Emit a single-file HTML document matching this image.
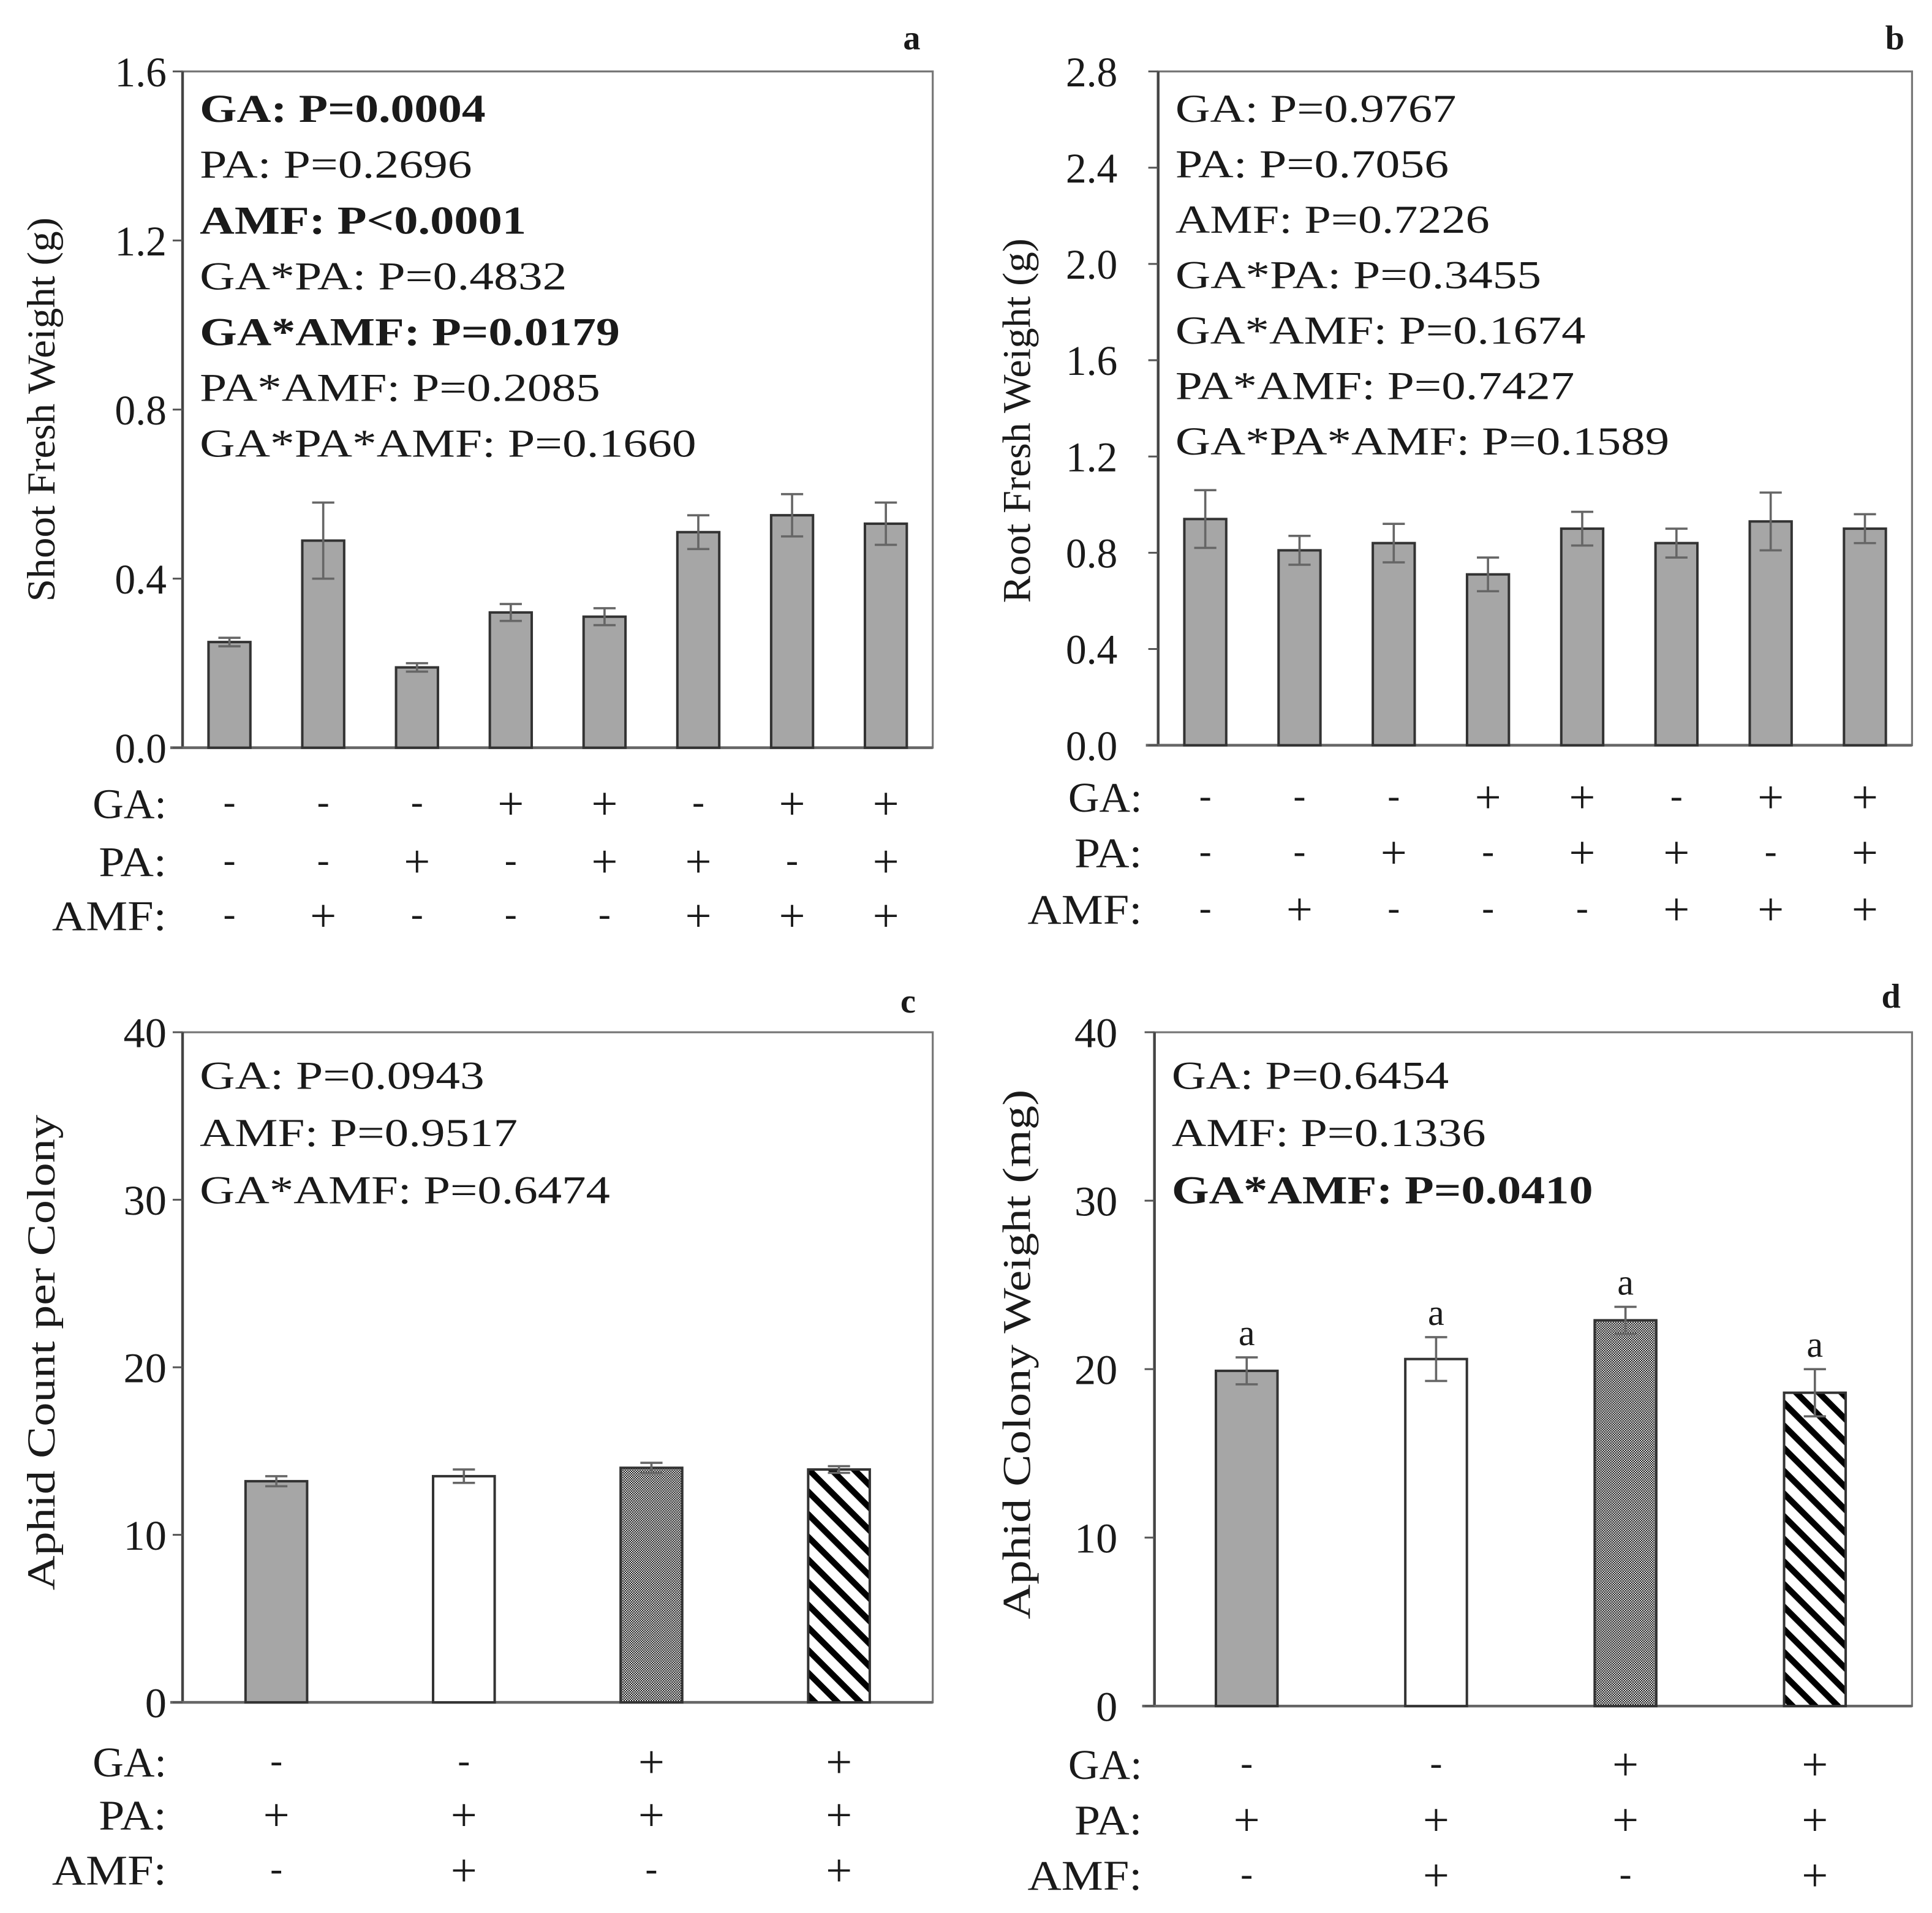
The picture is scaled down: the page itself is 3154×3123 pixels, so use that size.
<!DOCTYPE html>
<html><head><meta charset="utf-8"><style>
html,body{margin:0;padding:0;background:#fff}
svg{display:block}
text{font-family:"Liberation Serif",serif;fill:#1a1a1a}
</style></head><body>
<svg id="fig" width="3154" height="3123" viewBox="0 0 1568 1553" xmlns="http://www.w3.org/2000/svg">
<defs>
<pattern id="dots" patternUnits="userSpaceOnUse" width="2" height="2"><rect width="2" height="2" fill="#fff"/><rect width="1" height="1" fill="#000"/><rect x="1" y="1" width="1" height="1" fill="#000"/></pattern>
<pattern id="hatch" patternUnits="userSpaceOnUse" width="13" height="13" patternTransform="rotate(45)"><rect width="13" height="13" fill="#fff"/><rect width="13" height="5" fill="#000"/></pattern>
</defs>
</svg>
<script>
// Panel a data
const aValues=[0.25,0.49,0.19,0.32,0.31,0.51,0.55,0.53];
const aErrors=[0.01,0.09,0.01,0.02,0.02,0.04,0.05,0.05];
const aTicks=["0.0","0.4","0.8","1.2","1.6"];
// Panel b data
const bValues=[0.94,0.81,0.84,0.71,0.90,0.84,0.93,0.90];
const bErrors=[0.12,0.06,0.08,0.07,0.07,0.06,0.12,0.06];
const bTicks=["0.0","0.4","0.8","1.2","1.6","2.0","2.4","2.8"];
// Panel c data
const cValues=[13.2,13.5,14.0,13.9];
const cErrors=[0.3,0.4,0.3,0.2];
const cTicks=["0","10","20","30","40"];
// Panel d data
const dValues=[19.9,20.6,22.9,18.6];
const dErrors=[0.8,1.3,0.8,1.4];
const dTicks=["0","10","20","30","40"];
const dLetters=["a","a","a","a"];
// treatment rows
const abGA=["-","-","-","+","+","-","+","+"];
const abPA=["-","-","+","-","+","+","-","+"];
const abAMF=["-","+","-","-","-","+","+","+"];
const cdGA=["-","-","+","+"];
const cdPA=["+","+","+","+"];
const cdAMF=["-","+","-","+"];
// stats text
const aStats=[["GA: P=0.0004",1],["PA: P=0.2696",0],["AMF: P<0.0001",1],["GA*PA: P=0.4832",0],["GA*AMF: P=0.0179",1],["PA*AMF: P=0.2085",0],["GA*PA*AMF: P=0.1660",0]];
const bStats=[["GA: P=0.9767",0],["PA: P=0.7056",0],["AMF: P=0.7226",0],["GA*PA: P=0.3455",0],["GA*AMF: P=0.1674",0],["PA*AMF: P=0.7427",0],["GA*PA*AMF: P=0.1589",0]];
const cStats=[["GA: P=0.0943",0],["AMF: P=0.9517",0],["GA*AMF: P=0.6474",0]];
const dStats=[["GA: P=0.6454",0],["AMF: P=0.1336",0],["GA*AMF: P=0.0410",1]];

const NS="http://www.w3.org/2000/svg";
const svg=document.getElementById('fig');
function mk(tag,attrs,parent){const e=document.createElementNS(NS,tag);for(const k in attrs)e.setAttribute(k,attrs[k]);(parent||svg).appendChild(e);return e;}
function txt(s,attrs,parent){const e=mk('text',attrs,parent);e.textContent=s;return e;}
const rowW={'GA:':60,'PA:':55,'AMF:':93};
function tickW(t){let w=0;for(const ch of t)w+=(ch==='.'?7:17.5);return w;}

function panel(cfg){
  const g=mk('g',{});
  
  
  const L=cfg.L,R=cfg.R,T=cfg.T,B=cfg.B,max=cfg.max;
  const y=v=>B-(v/max)*(B-T);
  const n=cfg.values.length, step=(R-L)/n;
  const x=i=>L+step*(i+0.5)+cfg.xoff;
  const fr=mk('rect',{x:L,y:T,width:R-L,height:B-T,fill:'none',stroke:'#777','stroke-width':1.6},g);
  
  
  mk('line',{x1:L,y1:T,x2:L,y2:B,stroke:'#444','stroke-width':2.2},g);
  mk('line',{x1:L-10,y1:B,x2:R,y2:B,stroke:'#666','stroke-width':2.2},g);
  cfg.ticks.forEach((t,i)=>{
    const v=parseFloat(t);const yy=y(v);
    mk('line',{x1:L-8,y1:yy,x2:L,y2:yy,stroke:'#555','stroke-width':1.5},g);
    const tl=txt(t,{x:cfg.tickX,y:yy+12,'font-size':34,'text-anchor':'end',textLength:tickW(t),lengthAdjust:'spacingAndGlyphs'},g);
    
    
  });
  cfg.values.forEach((v,i)=>{
    const cx=x(i);const w=cfg.bw;
    const b=mk('rect',{x:cx-w/2,y:y(v),width:w,height:B-y(v),fill:cfg.fills[i],stroke:'#333','stroke-width':2},g);
    
    
    const e=cfg.errors[i];
    const eg=mk('g',{stroke:'#666','stroke-width':1.8},g);
    
    
    mk('line',{x1:cx,y1:y(v+e),x2:cx,y2:y(v-e)},eg);
    mk('line',{x1:cx-9,y1:y(v+e),x2:cx+9,y2:y(v+e)},eg);
    mk('line',{x1:cx-9,y1:y(v-e),x2:cx+9,y2:y(v-e)},eg);
    if(cfg.letters){
      const lt=txt(cfg.letters[i],{x:cx,y:y(v+e)-10,'font-size':30,'text-anchor':'middle'},g);
      
      
    }
  });
  cfg.stats.forEach((s,i)=>{
    const t=txt(s[0],{x:L+14,y:cfg.statY+i*cfg.statStep,'font-size':32,'font-weight':s[1]?'bold':'normal',textLength:cfg.statW[i],lengthAdjust:'spacingAndGlyphs'},g);
    
    
  });
  const cy=(T+B)/2+cfg.titleDy;
  const yt=txt(cfg.ytitle,{x:cfg.titleX,y:cy,'font-size':32,'text-anchor':'middle',transform:`rotate(-90 ${cfg.titleX} ${cy})`,textLength:cfg.titleLen,lengthAdjust:'spacingAndGlyphs'},g);
  
  
  const pl=txt(cfg.letter,{x:cfg.letterX,y:cfg.letterY,'font-size':28,'font-weight':'bold','text-anchor':'middle'},g);
  
  
  [['GA:',cfg.ga],['PA:',cfg.pa],['AMF:',cfg.amf]].forEach((r,k)=>{
    const yy=cfg.rowY[k];
    const rl=txt(r[0],{x:cfg.rowLabelX,y:yy+12,'font-size':34,'text-anchor':'end',textLength:rowW[r[0]],lengthAdjust:'spacingAndGlyphs'},g);
    
    
    r[1].forEach((s,i)=>{
      const st=txt(s,{x:x(i),y:yy+(s==='+'?13:9),'font-size':s==='+'?38:30,'text-anchor':'middle'},g);
      
      
    });
  });
}
const gray='#a6a6a6';
const gray8=Array(8).fill(gray);
const fills4=[gray,'#fff','url(#dots)','url(#hatch)'];
const w8a=[232,221,265,298,341,325,403];
const w8b=[228,222,255,297,333,324,401];
panel({name:'panel-a',L:148,R:757,T:58,B:607,max:1.6,xoff:0,bw:34,values:aValues,errors:aErrors,ticks:aTicks,fills:gray8,tickX:135,
  stats:aStats,statY:99,statStep:45.3,statW:w8a,ytitle:'Shoot Fresh Weight (g)',titleX:44,titleDy:0,titleLen:312,letter:'a',letterX:740,letterY:40,
  ga:abGA,pa:abPA,amf:abAMF,rowY:[652,699,743],rowLabelX:135});
panel({name:'panel-b',L:940,R:1552,T:58,B:605,max:2.8,xoff:0,bw:34,values:bValues,errors:bErrors,ticks:bTicks,fills:gray8,tickX:907,
  stats:bStats,statY:99,statStep:45,statW:w8b,ytitle:'Root Fresh Weight (g)',titleX:836,titleDy:10,titleLen:296,letter:'b',letterX:1538,letterY:40,
  ga:abGA,pa:abPA,amf:abAMF,rowY:[647,692,738],rowLabelX:927});
panel({name:'panel-c',L:148,R:757,T:838,B:1382,max:40,xoff:0,bw:50,values:cValues,errors:cErrors,ticks:cTicks,fills:fills4,tickX:135,
  stats:cStats,statY:884,statStep:46.5,statW:[231,258,333],ytitle:'Aphid Count per Colony',titleX:44,titleDy:-12,titleLen:386,letter:'c',letterX:737,letterY:822,
  ga:cdGA,pa:cdPA,amf:cdAMF,rowY:[1430,1473,1518],rowLabelX:135});
panel({name:'panel-d',L:937,R:1552,T:838,B:1385,max:40,xoff:-2,bw:50,values:dValues,errors:dErrors,ticks:dTicks,fills:fills4,tickX:907,letters:dLetters,
  stats:dStats,statY:884,statStep:46.5,statW:[225,255,342],ytitle:'Aphid Colony Weight (mg)',titleX:836,titleDy:-12,titleLen:430,letter:'d',letterX:1535,letterY:818,
  ga:cdGA,pa:cdPA,amf:cdAMF,rowY:[1432,1477,1522],rowLabelX:927});
</script>
</body></html>
